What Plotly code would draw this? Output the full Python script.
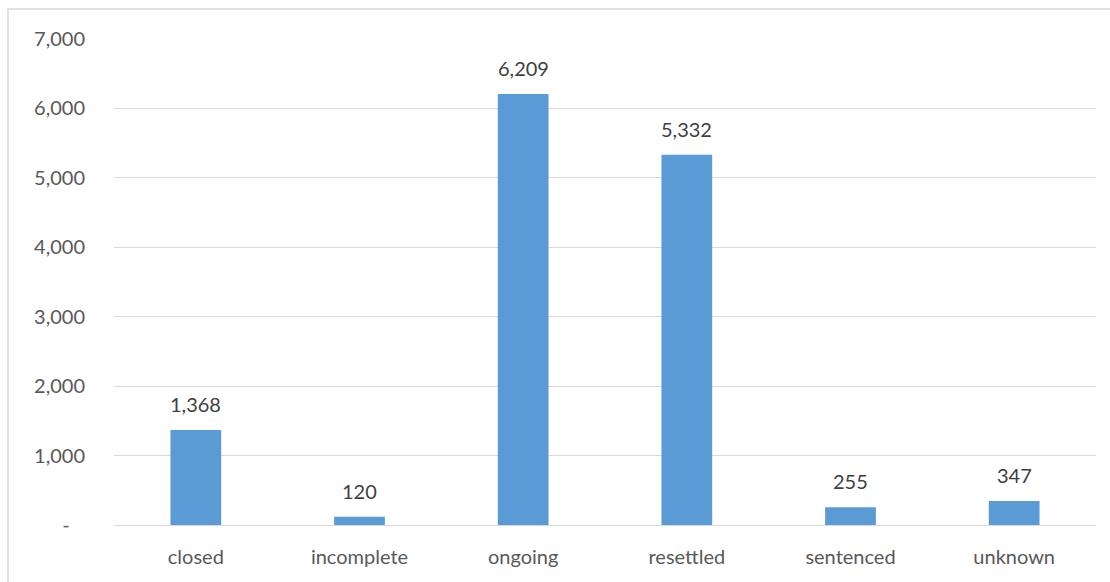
import plotly.graph_objects as go

categories = ["closed", "incomplete", "ongoing", "resettled", "sentenced", "unknown"]
values = [1368, 120, 6209, 5332, 255, 347]
tick_vals = [0, 1000, 2000, 3000, 4000, 5000, 6000, 7000]
tick_text = ["-\u00a0\u00a0\u00a0", "1,000", "2,000", "3,000", "4,000", "5,000", "6,000", "7,000"]

W, H = 1110, 582
L, R, T, B = 114, 14, 39, 57
pw, ph = W - L - R, H - T - B
FONT = "Lato, Open Sans, sans-serif"

fig = go.Figure(go.Bar(
    x=categories, y=values,
    marker=dict(color="#5B9BD5", line=dict(width=0)),
    width=0.31,
    hoverinfo="x+y",
))

for c, v in zip(categories, values):
    fig.add_annotation(x=c, y=v, text=f"{v:,}", showarrow=False,
                       yanchor="bottom", yshift=12,
                       font=dict(size=20, color="#404040", family=FONT))

fig.update_layout(
    width=W, height=H,
    margin=dict(l=L, r=R, t=T, b=B),
    paper_bgcolor="white", plot_bgcolor="white",
    showlegend=False,
    font=dict(family=FONT, size=20, color="#595959"),
    xaxis=dict(showgrid=False, showline=False, ticks="", ticklabelstandoff=18,
               tickfont=dict(size=20, color="#595959")),
    yaxis=dict(range=[0, 7000], tickvals=tick_vals, ticktext=tick_text,
               showgrid=True, gridcolor="#D9D9D9", gridwidth=1,
               zeroline=True, zerolinecolor="#D9D9D9", zerolinewidth=1,
               showline=False, ticks="", ticklabelstandoff=28,
               tickfont=dict(size=20, color="#595959")),
    shapes=[dict(type="rect", xref="paper", yref="paper",
                 x0=(8 - L) / pw, x1=1 + 30 / pw,
                 y0=-(B + 20) / ph, y1=1 + (T - 9) / ph,
                 line=dict(color="#D9D9D9", width=1.5), fillcolor="rgba(0,0,0,0)",
                 layer="below")],
)

fig.write_html("out.html")
